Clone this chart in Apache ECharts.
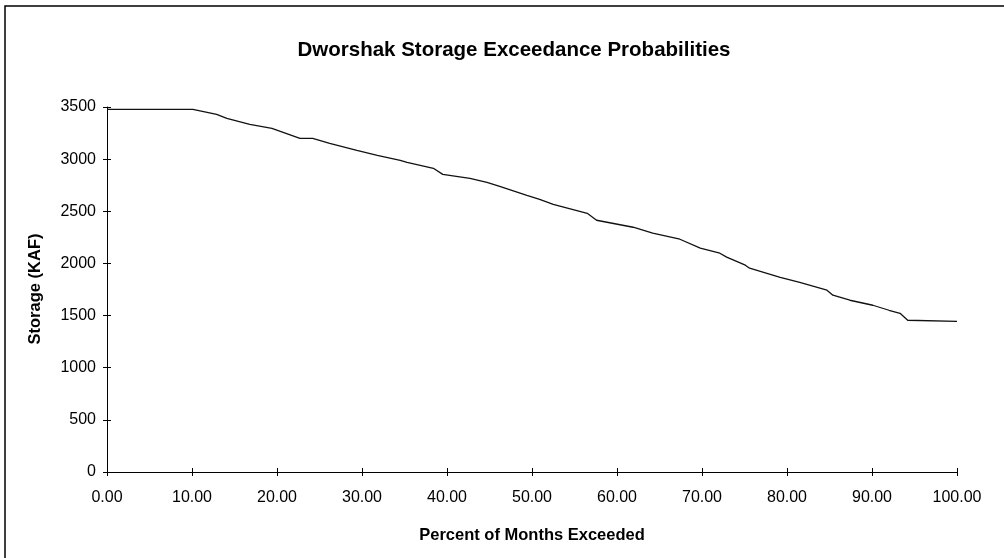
<!DOCTYPE html>
<html>
<head>
<meta charset="utf-8">
<script src="https://cdn.jsdelivr.net/npm/echarts@6/dist/echarts.min.js"></script>
<style>
html,body{margin:0;padding:0;background:#fff;}
#chart{width:1004px;height:558px;}
</style>
</head>
<body>
<div id="chart"></div>
<script>
// Percent of months exceeded
var percentExceeded = [0, 10.1, 12.9, 14.1, 16.8, 19.4, 22.7, 24.2, 26.2, 29.4, 31.8, 34.5, 35.3, 38.4, 39.5, 42.7, 44.7, 46.2, 49.4, 50.9, 52.5, 56.5, 57.6, 61.9, 64.2, 67.4, 69.8, 72.1, 72.9, 75.1, 75.6, 79.2, 81.5, 84.7, 85.4, 87.4, 90.1, 92.0, 93.3, 94.2, 100];
// Storage (KAF)
var storageKAF = [3478, 3478, 3429, 3390, 3334, 3295, 3199, 3199, 3151, 3084, 3036, 2988, 2969, 2912, 2854, 2816, 2778, 2739, 2653, 2615, 2567, 2481, 2414, 2347, 2290, 2232, 2146, 2098, 2060, 1983, 1954, 1867, 1819, 1743, 1695, 1647, 1599, 1551, 1522, 1455, 1445];

var titleText = 'Dworshak Storage Exceedance Probabilities';
var xName = 'Percent of Months Exceeded';
var yName = 'Storage (KAF)';

var points = percentExceeded.map(function (x, i) { return [x, storageKAF[i]]; });

var font = '"Liberation Sans", Arial, Helvetica, sans-serif';
var chart = echarts.init(document.getElementById('chart'));

function xAxisBase(extra) {
  var a = {
    type: 'value', min: 0, max: 100, interval: 10, position: 'bottom',
    splitLine: {show: false},
    axisLine: {show: true, onZero: false, lineStyle: {color: '#000', width: 1}},
    axisTick: {show: true, inside: false, length: 4, lineStyle: {color: '#000', width: 1}},
    axisLabel: {show: true, color: '#000', fontFamily: font, fontSize: 16, margin: 18,
      formatter: function (v) { return v.toFixed(2); }}
  };
  return Object.assign(a, extra || {});
}
function yAxisBase(extra) {
  var a = {
    type: 'value', min: 0, max: 3500, interval: 500, position: 'left',
    splitLine: {show: false},
    axisLine: {show: true, onZero: false, lineStyle: {color: '#000', width: 1}},
    axisTick: {show: true, inside: false, length: 4, lineStyle: {color: '#000', width: 1}},
    axisLabel: {show: true, color: '#000', fontFamily: font, fontSize: 16, margin: 11,
      formatter: function (v) { return String(v); }}
  };
  return Object.assign(a, extra || {});
}

chart.setOption({
  animation: false,
  backgroundColor: '#fff',
  grid: {left: 107, right: 47, top: 107, bottom: 86, containLabel: false},
  xAxis: [
    xAxisBase(),
    xAxisBase({axisLine: {show: false}, axisLabel: {show: false},
      axisTick: {show: true, inside: true, length: 4, lineStyle: {color: '#000', width: 1}}})
  ],
  yAxis: [
    yAxisBase(),
    yAxisBase({axisLine: {show: false}, axisLabel: {show: false},
      axisTick: {show: true, inside: true, length: 4, lineStyle: {color: '#000', width: 1}}})
  ],
  series: [{
    type: 'line', xAxisIndex: 0, yAxisIndex: 0,
    data: points, showSymbol: false, symbol: 'none',
    lineStyle: {color: '#111', width: 1.3},
    silent: true
  }],
  graphic: [
    {type: 'rect', shape: {x: 5, y: 6, width: 1010, height: 600},
      style: {fill: 'none', stroke: '#000', lineWidth: 1.5}, silent: true, z: -1},
    {type: 'text', x: 514, y: 50,
      style: {text: titleText, font: 'bold 20.5px ' + font, fill: '#000', align: 'center', verticalAlign: 'middle'}},
    {type: 'text', x: 532, y: 535,
      style: {text: xName, font: 'bold 16.5px ' + font, fill: '#000', align: 'center', verticalAlign: 'middle'}},
    {type: 'text', x: 35, y: 289, rotation: Math.PI / 2,
      style: {text: yName, font: 'bold 16.5px ' + font, fill: '#000', align: 'center', verticalAlign: 'middle'}}
  ]
});
</script>
</body>
</html>
